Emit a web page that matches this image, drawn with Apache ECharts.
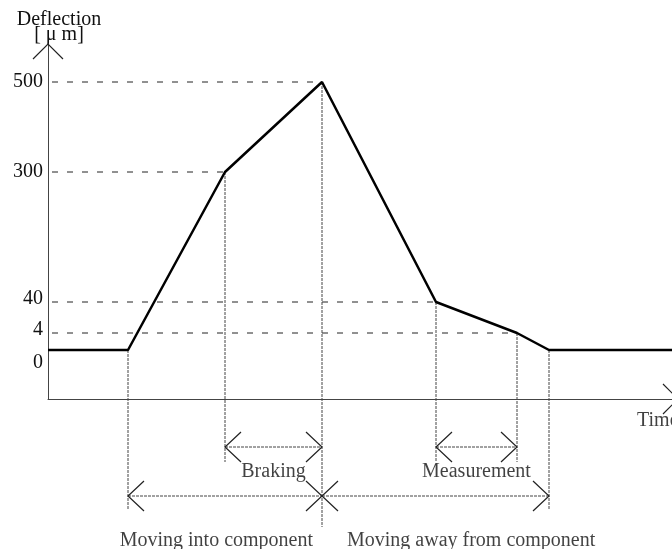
<!DOCTYPE html>
<html>
<head>
<meta charset="utf-8">
<script src="https://cdn.jsdelivr.net/npm/echarts@6/dist/echarts.min.js"></script>
<style>
html, body { margin: 0; background: #fff; }
#chart { width: 672px; height: 549px; }
</style>
</head>
<body>
<div id="chart"></div>
<script>
// deflection levels shown on the y axis (µm) and the height each one gets in the sketch
var levelValues = [0, 4, 40, 300, 500];
var levelHeights = [49, 66, 97, 227, 317];

// phase boundaries along the time axis and the deflection reached there
var phaseTimes = [0, 80, 177, 274, 388, 469, 501, 624];
var deflection = [0, 0, 300, 500, 40, 4, 0, 0];

// levels with a dashed guide back to the y axis
var guideLevels = [500, 300, 40, 4];

// drop lines under the phase boundaries: phase index, how far below the time axis they go
var dropIndex = [1, 2, 3, 4, 5, 6];
var dropDepth = [-111, -63, -128, -63, -63, -111];

// dimension arrows: from phase, to phase, depth, label
var spanFrom = [2, 4, 1, 3];
var spanTo = [3, 5, 3, 6];
var spanDepth = [-48, -48, -97, -97];
var spanNames = ['Braking', 'Measurement', 'Moving into component', 'Moving away from component'];

var FONT = 'Liberation Serif';

function heightOf(v) {
    return levelHeights[levelValues.indexOf(v)];
}

var curve = [];
for (var i = 0; i < phaseTimes.length; ++i) {
    curve.push([phaseTimes[i], heightOf(deflection[i])]);
}

var guides = [];
for (var i = 0; i < guideLevels.length; ++i) {
    var t = phaseTimes[deflection.indexOf(guideLevels[i])];
    guides.push({ coords: [[4, heightOf(guideLevels[i])], [t, heightOf(guideLevels[i])]] });
}

var drops = [];
for (var i = 0; i < dropIndex.length; ++i) {
    var k = dropIndex[i];
    drops.push({ coords: [[phaseTimes[k], heightOf(deflection[k])], [phaseTimes[k], dropDepth[i]]] });
}

// open chevron heads, dir = -1 points left, +1 points right
function head(x, y, dir) {
    return { coords: [[x - dir * 16, y + 15], [x, y], [x - dir * 16, y - 15]] };
}

var shafts = [];
var heads = [];
for (var i = 0; i < spanFrom.length; ++i) {
    var a = phaseTimes[spanFrom[i]], b = phaseTimes[spanTo[i]], h = spanDepth[i];
    shafts.push({ coords: [[a, h], [b, h]] });
    heads.push(head(a, h, -1));
    heads.push(head(b, h, 1));
}
// axis arrows
var yTop = 355, xEnd = 630;
heads.push({ coords: [[-15, yTop - 15], [0, yTop], [15, yTop - 15]] });
heads.push({ coords: [[xEnd - 15, 15], [xEnd, 0], [xEnd - 15, -15]] });

var labels = [
    { name: spanNames[0], value: [(phaseTimes[2] + phaseTimes[3]) / 2, -73], label: { position: 'inside' } },
    { name: spanNames[1], value: [(phaseTimes[4] + phaseTimes[5]) / 2, -73], label: { position: 'inside' } },
    { name: spanNames[2], value: [phaseTimes[3], -142], label: { position: 'left', distance: 9 } },
    { name: spanNames[3], value: [phaseTimes[3], -142], label: { position: 'right', distance: 25 } },
    { name: 'Time', value: [589, -22], label: { position: 'right', distance: 0 } }
];

var chart = echarts.init(document.getElementById('chart'));
var option = {
    animation: false,
    backgroundColor: '#fff',
    grid: { left: 48, right: 0, top: 44, bottom: 150, containLabel: false, outerBoundsMode: 'none' },
    xAxis: {
        type: 'value',
        min: 0,
        max: 624,
        axisLine: { show: true, onZero: false, lineStyle: { color: '#444', width: 1 } },
        axisTick: { show: false },
        axisLabel: { show: false },
        splitLine: { show: false }
    },
    yAxis: {
        type: 'value',
        min: 0,
        max: yTop,
        name: 'Deflection\n[ \u03bc m]',
        nameLocation: 'end',
        nameGap: 2,
        nameTextStyle: {
            fontFamily: FONT, fontSize: 20, color: '#111', lineHeight: 15,
            align: 'center', verticalAlign: 'bottom', padding: [0, 0, 0, 22]
        },
        axisLine: { show: true, lineStyle: { color: '#444', width: 1 } },
        axisTick: { show: false },
        splitLine: { show: false },
        axisLabel: {
            customValues: levelHeights,
            margin: 5,
            fontFamily: FONT,
            fontSize: 20,
            color: '#111',
            formatter: function (v) {
                var n = levelValues[levelHeights.indexOf(v)];
                if (n === 0) return '{dn|' + n + '}';
                if (n < 100) return '{up|' + n + '}';
                return '{n|' + n + '}';
            },
            rich: {
                n: { fontFamily: FONT, fontSize: 20, color: '#111' },
                up: { fontFamily: FONT, fontSize: 20, color: '#111', padding: [0, 0, 7, 0] },
                dn: { fontFamily: FONT, fontSize: 20, color: '#111', padding: [26, 0, 0, 0] }
            }
        }
    },
    series: [
        {
            type: 'lines',
            coordinateSystem: 'cartesian2d',
            polyline: true,
            clip: false,
            silent: true,
            lineStyle: { color: '#222', width: 1, type: [6, 9], opacity: 1 },
            data: guides
        },
        {
            type: 'lines',
            coordinateSystem: 'cartesian2d',
            polyline: true,
            clip: false,
            silent: true,
            lineStyle: { color: '#444', width: 1, type: [3, 1], opacity: 1 },
            data: drops.concat(shafts)
        },
        {
            type: 'lines',
            coordinateSystem: 'cartesian2d',
            polyline: true,
            clip: false,
            silent: true,
            lineStyle: { color: '#222', width: 1.2, opacity: 1 },
            data: heads
        },
        {
            type: 'line',
            data: curve,
            showSymbol: false,
            clip: false,
            silent: true,
            lineStyle: { color: '#000', width: 2.5 }
        },
        {
            type: 'scatter',
            symbolSize: 0,
            clip: false,
            silent: true,
            label: {
                show: true,
                formatter: '{b}',
                fontFamily: FONT,
                fontSize: 20,
                color: '#111'
            },
            data: labels
        }
    ]
};
chart.setOption(option);
</script>
</body>
</html>
